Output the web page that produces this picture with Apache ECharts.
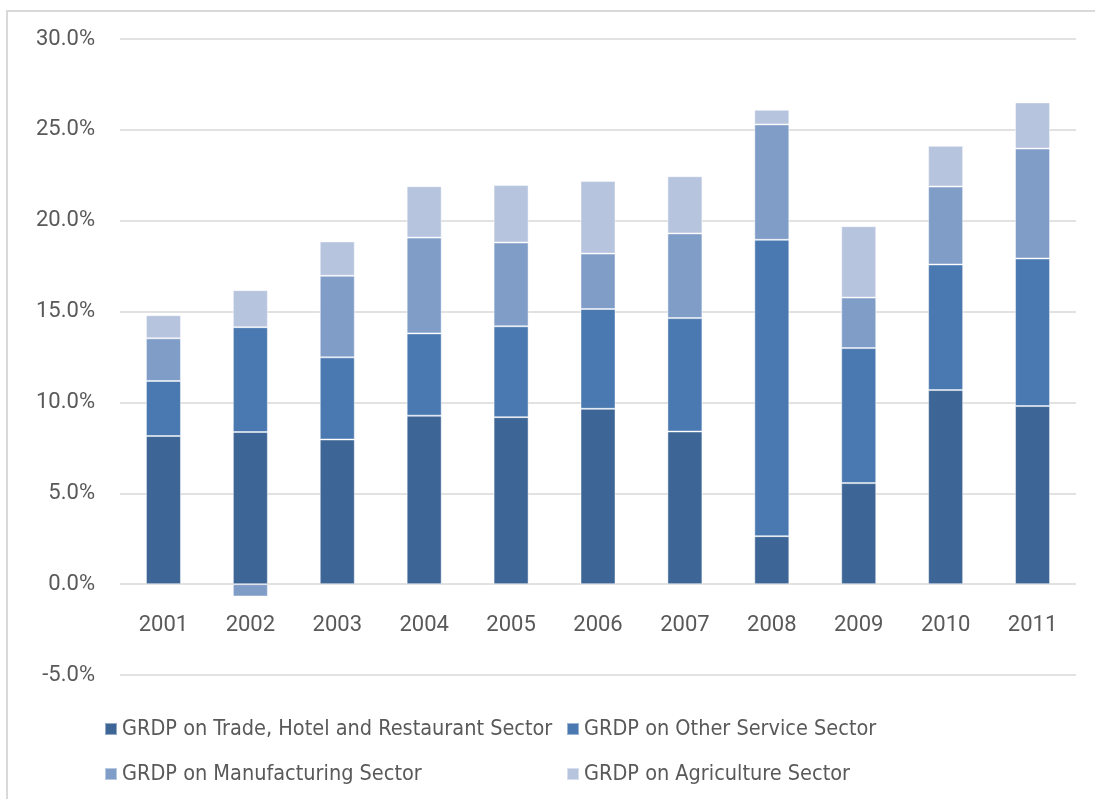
<!DOCTYPE html>
<html>
<head>
<meta charset="utf-8">
<script src="https://cdn.jsdelivr.net/npm/echarts@6/dist/echarts.min.js"></script>
<style>
html,body{margin:0;padding:0;background:#fff;}
#chart{width:1095px;height:799px;}
</style>
</head>
<body>
<div id="chart"></div>
<script>
const categories = ['2001','2002','2003','2004','2005','2006','2007','2008','2009','2010','2011'];
const seriesNames = [
  'GRDP on Trade, Hotel and Restaurant Sector',
  'GRDP on Other Service Sector',
  'GRDP on Manufacturing Sector',
  'GRDP on Agriculture Sector'
];
const tradeValues = [8.15, 8.37, 7.96, 9.27, 9.19, 9.65, 8.40, 2.64, 5.56, 10.68, 9.80];
const otherServiceValues = [3.03, 5.77, 4.52, 4.53, 5.00, 5.49, 6.24, 16.31, 7.43, 6.91, 8.12];
const manufacturingValues = [2.35, -0.68, 4.49, 5.27, 4.61, 3.05, 4.66, 6.35, 2.78, 4.29, 6.05];
const agricultureValues = [1.27, 2.04, 1.89, 2.83, 3.16, 4.00, 3.15, 0.80, 3.93, 2.24, 2.54];
const colors = ['#3d6595', '#4a78b0', '#809dc8', '#b6c4de'];

const chart = echarts.init(document.getElementById('chart'), null, {renderer: 'canvas'});
const valueSets = [tradeValues, otherServiceValues, manufacturingValues, agricultureValues];
const legendText = {color: '#595959', fontSize: 21.5, lineHeight: 21, fontFamily: '"DejaVu Sans Condensed", "Liberation Sans Narrow", Roboto, sans-serif'};

chart.setOption({
  animation: false,
  color: colors,
  graphic: [{
    type: 'rect',
    shape: {x: 7, y: 11, width: 1200, height: 900},
    style: {fill: 'none', stroke: '#d9d9d9', lineWidth: 2},
    silent: true
  }],
  legend: [
    {
      data: [seriesNames[0], seriesNames[2]],
      orient: 'vertical', left: 99, top: 713, itemGap: 23, padding: 5,
      icon: 'rect', itemWidth: 12, itemHeight: 12,
      textStyle: legendText, selectedMode: false
    },
    {
      data: [seriesNames[1], seriesNames[3]],
      orient: 'vertical', left: 561, top: 713, itemGap: 23, padding: 5,
      icon: 'rect', itemWidth: 12, itemHeight: 12,
      textStyle: legendText, selectedMode: false
    }
  ],
  grid: {left: 120, right: 19, top: 39, bottom: 124, containLabel: false},
  xAxis: {
    type: 'category',
    data: categories,
    offset: -91,
    axisLine: {show: false, onZero: false},
    axisTick: {show: false},
    axisLabel: {margin: 30, color: '#595959', fontSize: 22, fontFamily: 'Roboto, sans-serif'}
  },
  yAxis: {
    type: 'value',
    min: -5, max: 30, interval: 5,
    axisLine: {show: false},
    axisTick: {show: false},
    splitLine: {lineStyle: {color: '#d9d9d9', width: 1.5}},
    axisLabel: {
      margin: 25, color: '#595959', fontSize: 22, fontFamily: 'Roboto, sans-serif',
      formatter: v => v.toFixed(1) + '%'
    }
  },
  series: seriesNames.map((name, i) => ({
    name: name,
    type: 'bar',
    stack: 'total',
    barWidth: 35,
    data: valueSets[i],
    itemStyle: {color: colors[i], borderColor: 'rgba(255,255,255,0.45)', borderWidth: 1}
  }))
});
</script>
</body>
</html>
